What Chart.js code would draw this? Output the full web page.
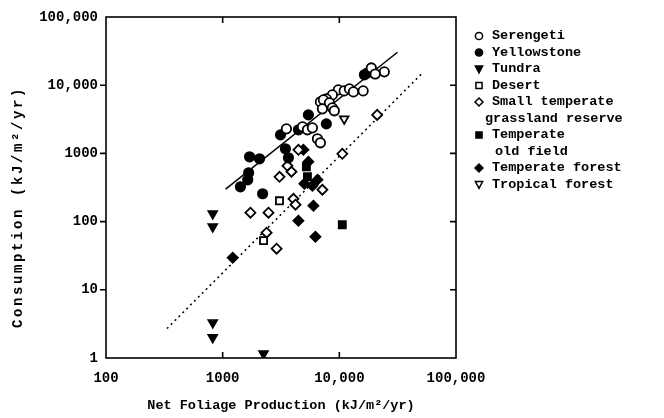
<!DOCTYPE html>
<html>
<head>
<meta charset="utf-8">
<script src="https://cdn.jsdelivr.net/npm/chart.js@4.4.0/dist/chart.umd.min.js"></script>
<style>
html, body { margin: 0; padding: 0; background: #fff; }
#wrap { width: 664px; height: 418px; }
</style>
</head>
<body>
<div id="wrap"><canvas id="foliageChart" width="664" height="418"></canvas></div>
<script>
// values, kJ/m2/yr
var serengetiX = [18800, 24300, 20300, 16000, 9800, 11000, 12200, 13200, 8710, 7740, 6880, 7300, 7160, 8220, 8710, 9060, 3520, 4830, 5330, 5880, 6490, 6880];
var serengetiY = [17900, 15700, 14600, 8250, 8530, 8250, 8830, 7980, 7210, 6300, 5690, 6090, 4500, 5510, 4650, 4210, 2290, 2450, 2220, 2370, 1640, 1430];
var yellowstoneX = [16400, 17300, 5430, 7740, 4460, 3130, 3450, 3660, 1700, 2070, 1670, 1640, 1420, 2200];
var yellowstoneY = [14200, 15100, 3670, 2710, 2220, 1870, 1170, 862, 891, 834, 520, 410, 324, 256];
var tundraX = [822, 822, 822, 822, 2240];
var tundraY = [131, 84, 3.3, 2.0, 1.16];
var desertX = [3070, 2240];
var desertY = [202, 52.5];
var grasslandX = [1730, 2470, 3070, 3590, 3890, 4040, 4210, 7160, 10600, 2380, 2900, 4460, 21100];
var grasslandY = [135, 135, 454, 658, 538, 216, 177, 293, 986, 68.8, 40.1, 1130, 3670];
var oldFieldX = [5220, 5330, 10600];
var oldFieldY = [637, 454, 90];
var forestX = [4920, 5430, 5020, 6490, 5880, 6000, 4460, 6240, 1220];
var forestY = [1130, 753, 359, 410, 336, 171, 103, 60, 29.6];
var tropicalX = [11000];
var tropicalY = [3210];

var solidLineX = [1060, 31500];
var solidLineY = [300, 30400];
var dottedLineX = [333, 51000];
var dottedLineY = [2.7, 14800];

var xTicks = [100, 1000, 10000, 100000];
var xTickLabels = ['100', '1000', '10,000', '100,000'];
var yTicks = [1, 10, 100, 1000, 10000, 100000];
var yTickLabels = ['1', '10', '100', '1000', '10,000', '100,000'];

var legendLines = [['Serengeti'], ['Yellowstone'], ['Tundra'], ['Desert'],
    ['Small temperate', 'grassland reserve'], ['Temperate', 'old field'],
    ['Temperate forest'], ['Tropical forest']];

var FONT = '"Liberation Mono", "DejaVu Sans Mono", monospace';

function pts(xs, ys) {
    return xs.map(function (x, i) { return {x: x, y: ys[i]}; });
}

function marker(label, xs, ys, style, fill, rot) {
    return {
        label: label,
        type: 'scatter',
        data: pts(xs, ys),
        pointStyle: style,
        pointRotation: rot || 0,
        pointRadius: style === 'circle' ? 4.7 : 5,
        pointBackgroundColor: fill,
        pointBorderColor: '#000',
        pointBorderWidth: 1.8
    };
}

// box, inward/outward tick marks, y title and the legend
var framePlugin = {
    id: 'frame',
    afterDraw: function (chart) {
        var ctx = chart.ctx;
        var a = chart.chartArea;
        var sx = chart.scales.x, sy = chart.scales.y;
        ctx.save();
        ctx.strokeStyle = '#000';
        ctx.lineWidth = 1.6;
        ctx.strokeRect(a.left, a.top, a.right - a.left, a.bottom - a.top);
        ctx.beginPath();
        xTicks.slice(1, -1).forEach(function (v) {
            var px = sx.getPixelForValue(v);
            ctx.moveTo(px, a.bottom); ctx.lineTo(px, a.bottom - 6);
            ctx.moveTo(px, a.top); ctx.lineTo(px, a.top + 6);
        });
        yTicks.slice(1, -1).forEach(function (v) {
            var py = sy.getPixelForValue(v);
            ctx.moveTo(a.left, py); ctx.lineTo(a.left - 6, py);
            ctx.moveTo(a.right, py); ctx.lineTo(a.right - 6, py);
        });
        ctx.stroke();

        // y axis title, spaced out like the original
        ctx.fillStyle = '#000';
        ctx.save();
        ctx.translate(18, 207);
        ctx.rotate(-Math.PI / 2);
        ctx.font = 'bold 14px ' + FONT;
        ctx.letterSpacing = '2.6px';
        ctx.textAlign = 'center';
        ctx.textBaseline = 'middle';
        ctx.fillText('Consumption (kJ/m²/yr)', 0, 0);
        ctx.restore();

        // legend
        var mx = 479, tx = 492, y0 = 36, step = 16.5, row = 0;
        ctx.font = 'bold 13.5px ' + FONT;
        ctx.textBaseline = 'middle';
        legendLines.forEach(function (lines, i) {
            var ds = chart.data.datasets[i];
            var y = y0 + row * step;
            drawMarker(ctx, ds.pointStyle, ds.pointBackgroundColor, ds.pointRotation, mx, y);
            lines.forEach(function (t, j) {
                var x = tx;
                if (j > 0) x = (i === 4) ? 485 : 495;
                ctx.fillText(t, x, y0 + row * step);
                row++;
            });
        });
        ctx.restore();
    }
};

function drawMarker(ctx, style, fill, rot, x, y) {
    var r = 3.6;
    ctx.save();
    ctx.translate(x, y);
    ctx.rotate((rot || 0) * Math.PI / 180);
    ctx.beginPath();
    if (style === 'circle') {
        ctx.arc(0, 0, r, 0, Math.PI * 2);
    } else if (style === 'rect') {
        ctx.rect(-r * 0.85, -r * 0.85, r * 1.7, r * 1.7);
    } else if (style === 'rectRot') {
        ctx.moveTo(0, -r * 1.1); ctx.lineTo(r * 1.1, 0); ctx.lineTo(0, r * 1.1); ctx.lineTo(-r * 1.1, 0);
        ctx.closePath();
    } else {
        ctx.moveTo(0, -r * 1.1); ctx.lineTo(r, r * 0.8); ctx.lineTo(-r, r * 0.8);
        ctx.closePath();
    }
    ctx.fillStyle = fill;
    ctx.fill();
    ctx.lineWidth = 1.5;
    ctx.strokeStyle = '#000';
    ctx.stroke();
    ctx.restore();
}

var ctx = document.getElementById('foliageChart').getContext('2d');
var foliageChart = new Chart(ctx, {
    data: {
        datasets: [
            marker('Serengeti', serengetiX, serengetiY, 'circle', '#fff'),
            marker('Yellowstone', yellowstoneX, yellowstoneY, 'circle', '#000'),
            marker('Tundra', tundraX, tundraY, 'triangle', '#000', 180),
            marker('Desert', desertX, desertY, 'rect', '#fff'),
            marker('Small temperate grassland reserve', grasslandX, grasslandY, 'rectRot', '#fff'),
            marker('Temperate old field', oldFieldX, oldFieldY, 'rect', '#000'),
            marker('Temperate forest', forestX, forestY, 'rectRot', '#000'),
            marker('Tropical forest', tropicalX, tropicalY, 'triangle', '#fff', 180),
            {
                type: 'line',
                label: 'fit',
                data: pts(solidLineX, solidLineY),
                borderColor: '#000',
                borderWidth: 1.5,
                pointRadius: 0,
                fill: false
            },
            {
                type: 'line',
                label: 'fit2',
                data: pts(dottedLineX, dottedLineY),
                borderColor: '#000',
                borderWidth: 1.5,
                borderDash: [2, 3.5],
                pointRadius: 0,
                fill: false
            }
        ]
    },
    options: {
        responsive: false,
        animation: false,
        layout: { padding: { top: 17, right: 208, left: 0, bottom: 0 } },
        plugins: { legend: { display: false }, tooltip: { enabled: false } },
        scales: {
            x: {
                type: 'logarithmic',
                min: 100,
                max: 100000,
                afterBuildTicks: function (scale) {
                    scale.ticks = xTicks.map(function (v) { return {value: v}; });
                },
                afterFit: function (scale) { scale.height = 60; },
                grid: { display: false, drawTicks: false },
                border: { display: false },
                ticks: {
                    color: '#000',
                    padding: 12,
                    maxRotation: 0,
                    font: { family: FONT, size: 14, weight: 'bold' },
                    callback: function (v) {
                        var i = xTicks.indexOf(v);
                        return i >= 0 ? xTickLabels[i] : '';
                    }
                },
                title: {
                    display: true,
                    text: 'Net Foliage Production (kJ/m²/yr)',
                    color: '#000',
                    padding: { top: 4, bottom: 4 },
                    font: { family: FONT, size: 13.5, weight: 'bold' }
                }
            },
            y: {
                type: 'logarithmic',
                min: 1,
                max: 100000,
                afterBuildTicks: function (scale) {
                    scale.ticks = yTicks.map(function (v) { return {value: v}; });
                },
                afterFit: function (scale) { scale.width = 106; },
                grid: { display: false, drawTicks: false },
                border: { display: false },
                ticks: {
                    color: '#000',
                    padding: 8,
                    font: { family: FONT, size: 14, weight: 'bold' },
                    callback: function (v) {
                        var i = yTicks.indexOf(v);
                        return i >= 0 ? yTickLabels[i] : '';
                    }
                }
            }
        }
    },
    plugins: [framePlugin]
});
</script>
</body>
</html>
